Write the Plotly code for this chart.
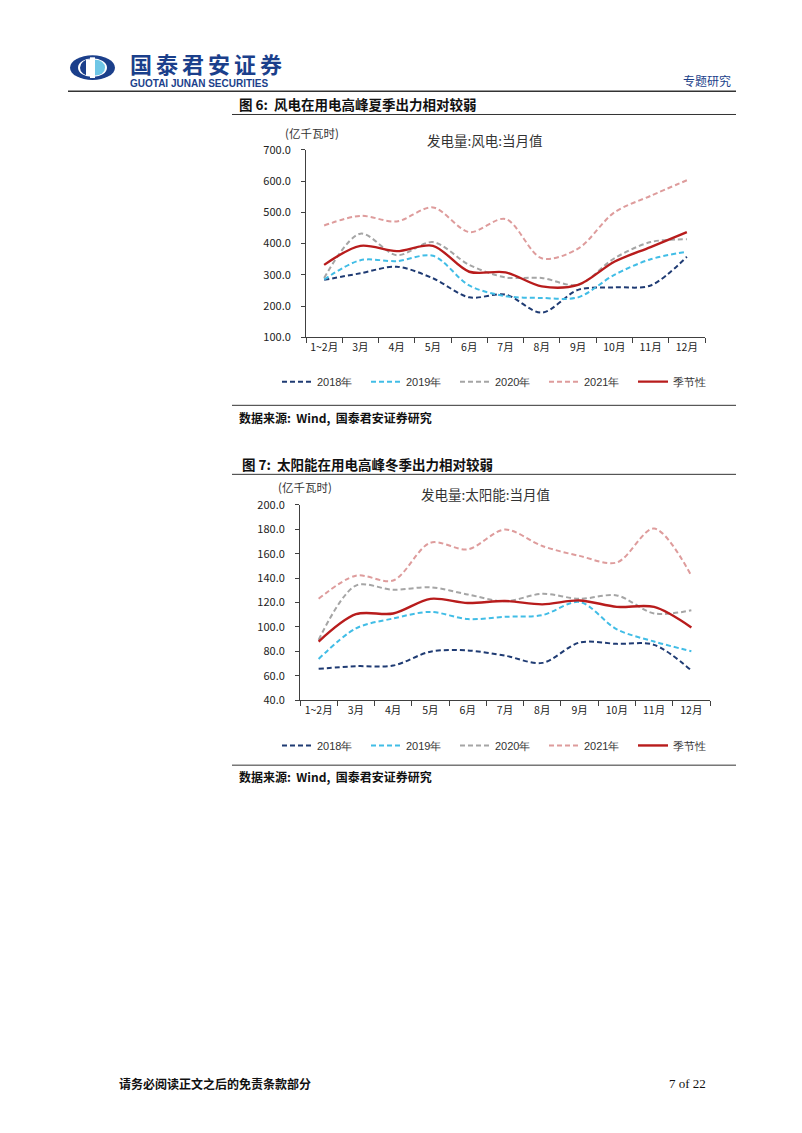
import plotly.graph_objects as go

W, H = 802, 1133

# ---------------- data ----------------
months = ["1~2月", "3月", "4月", "5月", "6月", "7月", "8月", "9月", "10月", "11月", "12月"]

wind_2018 = [284, 305, 326, 289, 228, 237, 179, 252, 260, 266, 358]
wind_2019 = [285, 347, 344, 361, 266, 232, 226, 228, 300, 350, 374]
wind_2020 = [290, 432, 363, 405, 332, 292, 290, 268, 353, 405, 414]
wind_2021 = [458, 489, 471, 516, 437, 479, 353, 384, 500, 553, 603]
wind_season = [332, 393, 376, 393, 310, 308, 263, 268, 342, 389, 437]

solar_2018 = [65.6, 67.8, 68.3, 79.7, 80.7, 76.4, 70.5, 87.2, 86.1, 85.3, 64.3]
solar_2019 = [73.7, 98.8, 106.9, 112.3, 106.4, 108.3, 109.6, 120.4, 98.0, 88.0, 80.0]
solar_2020 = [89.4, 133.9, 130.4, 132.5, 126.6, 121.0, 127.1, 123.0, 125.8, 111.0, 113.6]
solar_2021 = [123.0, 142.0, 138.0, 169.0, 163.6, 179.8, 166.3, 158.2, 152.8, 180.6, 142.0]
solar_season = [88.0, 110.4, 111.0, 123.0, 119.6, 121.2, 118.5, 121.7, 116.4, 116.4, 99.6]

series_names = ["2018年", "2019年", "2020年", "2021年", "季节性"]
colors = ["#1F3B73", "#41BDE6", "#A5A5A5", "#DE9C9C", "#B81C1C"]

logo_chars = list("国泰君安证券")

# ---------------- helpers ----------------
def px(x):
    return x / W

def py(y):
    return 1 - y / H

CJK = "Noto Sans CJK SC"
LAT = "Liberation Sans"

fig = go.Figure()

wind_sets = [wind_2018, wind_2019, wind_2020, wind_2021, wind_season]
solar_sets = [solar_2018, solar_2019, solar_2020, solar_2021, solar_season]

for i, (name, vals) in enumerate(zip(series_names, wind_sets)):
    seasonal = i == 4
    fig.add_trace(go.Scatter(
        x=months, y=vals, name=name, mode="lines",
        line=dict(color=colors[i], width=2.4 if seasonal else 2,
                  dash="solid" if seasonal else "5px,3px",
                  shape="spline", smoothing=0.9),
        xaxis="x", yaxis="y", legend="legend",
    ))

for i, (name, vals) in enumerate(zip(series_names, solar_sets)):
    seasonal = i == 4
    fig.add_trace(go.Scatter(
        x=months, y=vals, name=name, mode="lines",
        line=dict(color=colors[i], width=2.4 if seasonal else 2,
                  dash="solid" if seasonal else "5px,3px",
                  shape="spline", smoothing=0.9),
        xaxis="x2", yaxis="y2", legend="legend2",
    ))

axis_common_x = dict(
    type="category", categoryorder="array", categoryarray=months,
    showgrid=False, zeroline=False, showline=True, linecolor="#404040", linewidth=1,
    ticks="outside", ticklen=5, tickcolor="#404040", tickson="boundaries",
    tickangle=0,
    tickfont=dict(family=CJK, size=10.5, color="#222222"),
    range=[-0.5, 10.5], fixedrange=True,
)
axis_common_y = dict(
    showgrid=False, zeroline=False, showline=True, linecolor="#404040", linewidth=1,
    ticks="outside", ticklen=4, tickcolor="#404040", tickformat=".1f",
    ticklabelstandoff=8,
    tickfont=dict(family=CJK, size=11, color="#222222"),
    fixedrange=True,
)

legend_common = dict(
    orientation="h", xanchor="left", yanchor="middle",
    font=dict(family=LAT, size=11, color="#333333"),
    bgcolor="rgba(0,0,0,0)", entrywidth=44, entrywidthmode="pixels",
    itemwidth=30, tracegroupgap=0,
)

fig.update_layout(
    width=W, height=H, margin=dict(l=0, r=0, t=0, b=0),
    paper_bgcolor="white", plot_bgcolor="white", showlegend=True,
    xaxis=dict(axis_common_x, domain=[px(306), px(705)], anchor="y"),
    yaxis=dict(axis_common_y, domain=[py(333), py(143)], range=[100, 700], dtick=100, anchor="x"),
    xaxis2=dict(axis_common_x, domain=[px(300), px(710)], anchor="y2"),
    yaxis2=dict(axis_common_y, domain=[py(701), py(503)], range=[40, 200], dtick=20, anchor="x2"),
    legend=dict(legend_common, x=px(277), y=py(378)),
    legend2=dict(legend_common, x=px(277), y=py(747)),
)

# ---------------- page decorations ----------------
shapes = []
annotations = []

def hline(y, x0, x1, color="#333333", width=1):
    shapes.append(dict(type="line", xref="paper", yref="paper",
                       x0=px(x0), x1=px(x1), y0=py(y), y1=py(y),
                       line=dict(color=color, width=width)))

def text(x, y, s, size=12, color="#111111", family=CJK, xanchor="left", bold=False):
    annotations.append(dict(xref="paper", yref="paper", x=px(x), y=py(y),
                            text=f"<b>{s}</b>" if bold else s, showarrow=False,
                            xanchor=xanchor, yanchor="middle",
                            font=dict(family=family, size=size, color=color)))

# logo
NAVY = "#1B3F8B"
shapes.append(dict(type="circle", xref="paper", yref="paper",
                   x0=px(70), x1=px(115), y0=py(72), y1=py(47),
                   fillcolor=NAVY, line=dict(width=0)))
shapes.append(dict(type="circle", xref="paper", yref="paper",
                   x0=px(78), x1=px(107), y0=py(69), y1=py(50),
                   fillcolor="white", line=dict(width=0)))
shapes.append(dict(type="circle", xref="paper", yref="paper",
                   x0=px(80), x1=px(100), y0=py(68), y1=py(51),
                   fillcolor=NAVY, line=dict(width=0)))
shapes.append(dict(type="rect", xref="paper", yref="paper",
                   x0=px(90), x1=px(95), y0=py(70), y1=py(49),
                   fillcolor="white", line=dict(width=0)))
shapes.append(dict(type="circle", xref="paper", yref="paper",
                   x0=px(86), x1=px(105), y0=py(67.5), y1=py(51.5),
                   fillcolor="#6EC6E6", line=dict(width=0)))
shapes.append(dict(type="rect", xref="paper", yref="paper",
                   x0=px(86), x1=px(95), y0=py(68), y1=py(51),
                   fillcolor="white", line=dict(width=0)))

for k, ch in enumerate(logo_chars):
    text(128 + 13 + 26 * k, 55, ch, size=22, color=NAVY, xanchor="center", bold=True)
text(128, 76, "GUOTAI JUNAN SECURITIES", size=10, color=NAVY, family=LAT, bold=True)
text(733, 73, "专题研究", size=12, color=NAVY, xanchor="right")
hline(83.5, 68, 736, color="#333333", width=1.5)

# figure 6
text(237, 96, "图 6:  风电在用电高峰夏季出力相对较弱", size=13.5, bold=True)
hline(107, 232, 736)
text(312, 126, "(亿千瓦时)", size=11.5, color="#333333", xanchor="center")
text(485, 133, "发电量:风电:当月值", size=13.5, color="#333333", xanchor="center")
hline(402, 232, 736)
text(237, 414, "数据来源:  Wind,  国泰君安证券研究", size=12, bold=True)

# figure 7
text(240, 462, "图 7:  太阳能在用电高峰冬季出力相对较弱", size=13.5, bold=True)
hline(472, 232, 736)
text(305, 485, "(亿千瓦时)", size=11.5, color="#333333", xanchor="center")
text(485, 492, "发电量:太阳能:当月值", size=13.5, color="#333333", xanchor="center")
hline(767, 232, 736)
text(237, 779, "数据来源:  Wind,  国泰君安证券研究", size=12, bold=True)

# footer
text(117, 1090, "请务必阅读正文之后的免责条款部分", size=12, bold=True)
text(708, 1090, "7 of 22", size=13, family="Liberation Serif", xanchor="right")

fig.update_layout(shapes=shapes, annotations=annotations)

fig.write_html(
    "out.html",
    config={"displayModeBar": False},
    post_script="document.body.style.margin='0';document.body.style.overflow='hidden';",
)
